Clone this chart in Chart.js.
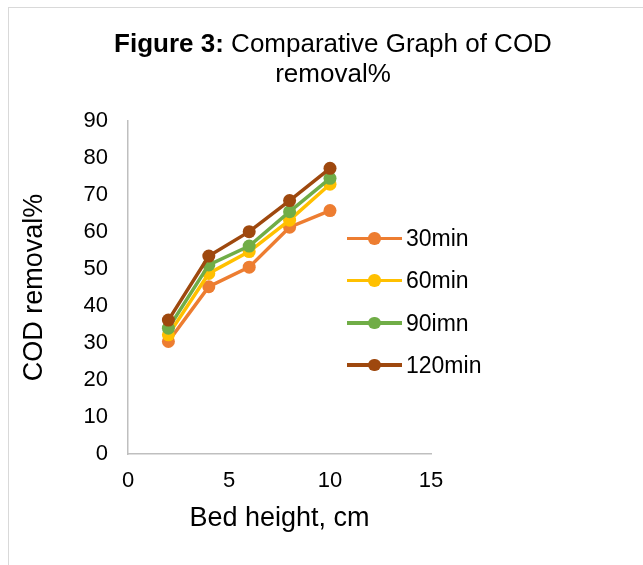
<!DOCTYPE html>
<html>
<head>
<meta charset="utf-8">
<script src="https://cdn.jsdelivr.net/npm/chart.js@4.4.1/dist/chart.umd.min.js"></script>
<style>
    body { margin: 0; background: #fff; overflow: hidden; font-family: "Liberation Sans", Arial, sans-serif; }
    #wrap { position: relative; width: 643px; height: 565px; }
    #frame { position: absolute; left: 8px; top: 7px; width: 700px; height: 600px; border: 1px solid #d9d9d9; }
    #chart-title { position: absolute; left: 0; top: 28px; width: 666px; text-align: center; font-size: 26px; line-height: 30px; color: #000; }
    #myChart { position: absolute; left: 0; top: 0; }
    #legend { position: absolute; left: 347px; top: 217px; }
    .leg-row { position: relative; height: 42.3px; }
    .leg-line { position: absolute; left: 0; top: 19.5px; width: 55px; height: 3.5px; }
    .leg-dot { position: absolute; left: 21px; top: 15px; width: 12.5px; height: 12.5px; border-radius: 50%; }
    .leg-text { position: absolute; left: 59px; top: 6px; font-size: 23px; line-height: 30px; color: #000; white-space: nowrap; }
</style>
</head>
<body>
<div id="wrap">
    <div id="frame"></div>
    <canvas id="myChart" width="643" height="565"></canvas>
    <div id="chart-title"><b>Figure 3:</b> Comparative Graph of COD<br>removal%</div>
    <div id="legend"></div>
</div>
<script>
/*** Chart data ***/
const bedHeights = [2, 4, 6, 8, 10];
const cod30min = [30.4, 45.2, 50.5, 61.3, 65.8];
const cod60min = [32.2, 48.8, 54.7, 63.2, 72.9];
const cod90min = [34.0, 51.1, 56.2, 65.5, 74.5];
const cod120min = [36.2, 53.5, 60.1, 68.5, 77.2];
const seriesNames = ["30min", "60min", "90imn", "120min"];
const seriesColors = ["#ED7D31", "#FFC000", "#70AD47", "#9E480E"];
const xTickValues = [0, 5, 10, 15];
const yTickValues = [0, 10, 20, 30, 40, 50, 60, 70, 80, 90];

const fontFamily = '"Liberation Sans", Arial, sans-serif';
const axisGray = "#bfbfbf";

function makePoints(values) {
    return values.map((v, i) => ({ x: bedHeights[i], y: v }));
}

const seriesValues = [cod30min, cod60min, cod90min, cod120min];
const datasets = seriesValues.map((values, i) => ({
    label: seriesNames[i],
    data: makePoints(values),
    borderColor: seriesColors[i],
    backgroundColor: seriesColors[i],
    pointBackgroundColor: seriesColors[i],
    pointBorderColor: seriesColors[i],
    borderWidth: 3.5,
    pointRadius: 6.5,
    pointBorderWidth: 0,
    showLine: true,
    tension: 0,
    // later series are drawn on top, as in the original
    order: seriesValues.length - 1 - i
}));

function renderLegend() {
    const legend = document.getElementById("legend");
    datasets.forEach((ds) => {
        const row = document.createElement("div");
        row.className = "leg-row";
        row.innerHTML =
            '<div class="leg-line" style="background:' + ds.borderColor + '"></div>' +
            '<div class="leg-dot" style="background:' + ds.borderColor + '"></div>' +
            '<div class="leg-text">' + ds.label + '</div>';
        legend.appendChild(row);
    });
}

function renderChart() {
    const ctx = document.getElementById("myChart").getContext("2d");
    window.myChart = new Chart(ctx, {
        type: "scatter",
        data: { datasets: datasets },
        options: {
            responsive: false,
            animation: false,
            layout: { padding: { left: 0, top: 121, right: 212, bottom: 0 } },
            plugins: {
                legend: { display: false },
                tooltip: { enabled: false },
                title: { display: false }
            },
            scales: {
                x: {
                    type: "linear",
                    min: 0,
                    max: 15,
                    afterBuildTicks: (scale) => { scale.ticks = xTickValues.map((v) => ({ value: v })); },
                    afterFit: (scale) => { scale.height = 111; },
                    grid: { display: false, drawTicks: false },
                    border: { display: true, color: axisGray, width: 1.5 },
                    ticks: { padding: 14, color: "#000", font: { family: fontFamily, size: 22 }, maxRotation: 0 },
                    title: {
                        display: true,
                        text: "Bed height, cm",
                        color: "#000",
                        font: { family: fontFamily, size: 27 },
                        padding: { top: 0, bottom: 30 }
                    }
                },
                y: {
                    type: "linear",
                    min: 0,
                    max: 90,
                    afterBuildTicks: (scale) => { scale.ticks = yTickValues.map((v) => ({ value: v })); },
                    afterFit: (scale) => { scale.width = 128; },
                    grid: { display: false, drawTicks: false },
                    border: { display: true, color: axisGray, width: 1.5 },
                    ticks: { padding: 20, color: "#000", font: { family: fontFamily, size: 22 } },
                    title: {
                        display: true,
                        text: "COD removal%",
                        color: "#000",
                        font: { family: fontFamily, size: 27 },
                        padding: { top: 18, bottom: 0 }
                    }
                }
            }
        }
    });
}

function init() {
    renderLegend();
    renderChart();
}
init();
</script>
</body>
</html>
